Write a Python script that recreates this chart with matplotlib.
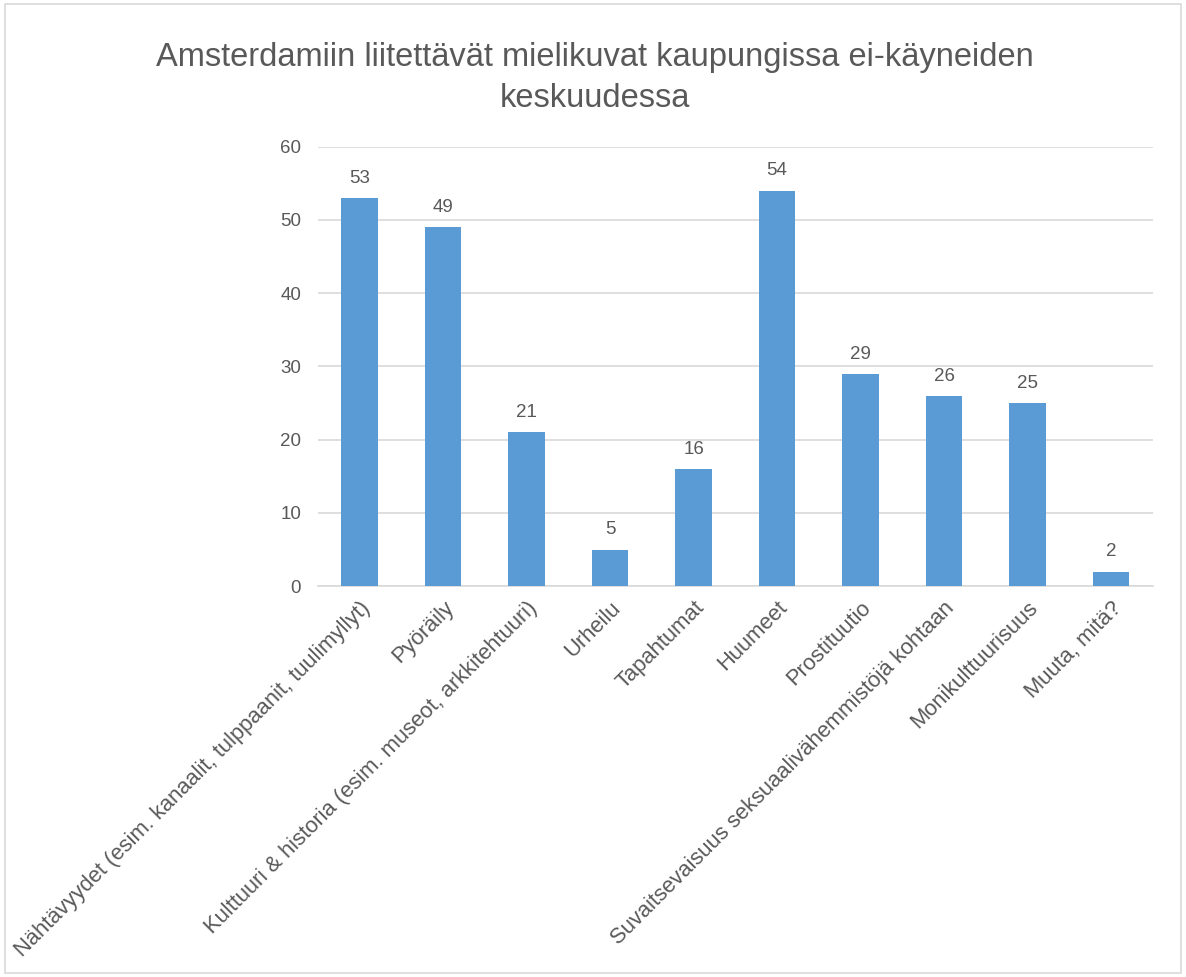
import matplotlib
matplotlib.use("Agg")
import matplotlib.pyplot as plt
from matplotlib.patches import Rectangle

plt.rcParams['font.family'] = ['Liberation Sans', 'DejaVu Sans']

# data
categories = [
    "Nähtävyydet (esim. kanaalit, tulppaanit, tuulimyllyt)",
    "Pyöräily",
    "Kulttuuri & historia (esim. museot, arkkitehtuuri)",
    "Urheilu",
    "Tapahtumat",
    "Huumeet",
    "Prostituutio",
    "Suvaitsevaisuus seksuaalivähemmistöjä kohtaan",
    "Monikulttuurisuus",
    "Muuta, mitä?",
]
values = [53, 49, 21, 5, 16, 54, 29, 26, 25, 2]
yticks = [0, 10, 20, 30, 40, 50, 60]

title = "Amsterdamiin liitettävät mielikuvat kaupungissa ei-käyneiden\nkeskuudessa"

bar_color = "#5B9BD5"
text_color = "#595959"
grid_color = "#D9D9D9"

fig = plt.figure(figsize=(11.86, 9.77), dpi=100)
ax = fig.add_axes([0.268, 0.400, 0.704, 0.450])

x = list(range(len(categories)))
bars = ax.bar(x, values, width=0.44, color=bar_color, zorder=3)

# value labels above bars
for xi, v in zip(x, values):
    ax.annotate(str(v), (xi, v), xytext=(0, 8), textcoords="offset points",
                ha="center", va="bottom", fontsize=13.5, color=text_color)

ax.set_xlim(-0.5, len(categories) - 0.5)
ax.set_ylim(0, 60)
ax.set_yticks(yticks)
ax.set_yticklabels([str(t) for t in yticks], fontsize=13.5, color=text_color)
ax.set_xticks(x)
ax.set_xticklabels(categories, rotation=45, ha="right", rotation_mode="anchor",
                   fontsize=15.8, color=text_color)
ax.tick_params(axis="both", length=0, pad=12)
ax.tick_params(axis="x", pad=8)

ax.grid(axis="y", color=grid_color, linewidth=1.2, zorder=0)
for side in ["top", "right", "left"]:
    ax.spines[side].set_visible(False)
ax.spines["bottom"].set_color(grid_color)
ax.spines["bottom"].set_linewidth(1.2)

fig.text(0.502, 0.920, title, ha="center", va="center", fontsize=23.5,
         color=text_color, linespacing=1.4)

# chart border
fig.patches.append(Rectangle((0.004, 0.004), 0.992, 0.992, transform=fig.transFigure,
                             fill=False, edgecolor="#D9D9D9", linewidth=1.2))

fig.savefig("out.png", dpi=100)
